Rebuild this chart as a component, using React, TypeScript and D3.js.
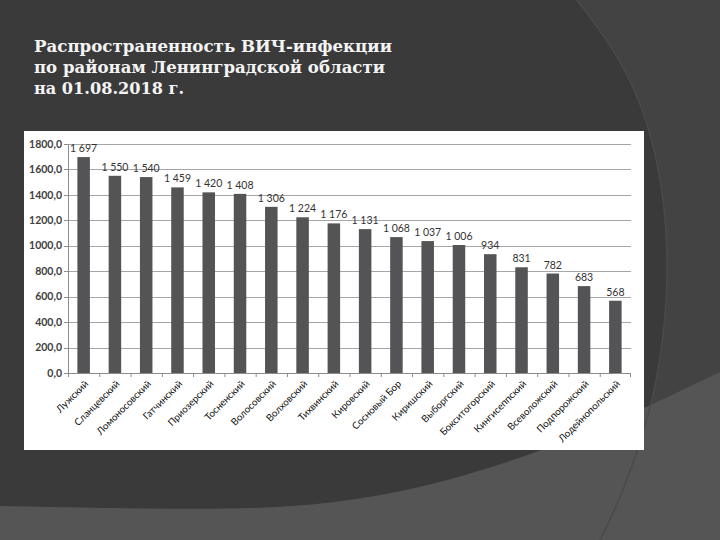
import React from "react";
import * as d3 from "d3";

const titleLines = [
  "Распространенность ВИЧ-инфекции",
  "по районам Ленинградской области",
  "на 01.08.2018 г.",
];

const districts = [
  "Лужский",
  "Сланцевский",
  "Ломоносовский",
  "Гатчинский",
  "Приозерский",
  "Тосненский",
  "Волосовский",
  "Волховский",
  "Тихвинский",
  "Кировский",
  "Сосновый Бор",
  "Киришский",
  "Выборгский",
  "Бокситогорский",
  "Кингисеппский",
  "Всеволожский",
  "Подпорожский",
  "Лодейнопольский",
];

const cases = [1697, 1550, 1540, 1459, 1420, 1408, 1306, 1224, 1176, 1131, 1068, 1037, 1006, 934, 831, 782, 683, 568];

const yTicks = [0, 200, 400, 600, 800, 1000, 1200, 1400, 1600, 1800];

const W = 720;
const H = 540;
const plot = { left: 68, right: 631, top: 144, bottom: 373 };

const fmtTick = (v: number) => v.toFixed(1).replace(".", ",");
const fmtVal = (v: number) => {
  const s = String(v);
  return s.length > 3 ? s.slice(0, s.length - 3) + " " + s.slice(s.length - 3) : s;
};

export default function App() {
  const x = d3
    .scaleBand<string>()
    .domain(districts)
    .range([plot.left, plot.right])
    .paddingInner(0.6)
    .paddingOuter(0.3);
  const xEdges = d3
    .scaleBand<string>()
    .domain(districts)
    .range([plot.left, plot.right])
    .padding(0);
  const y = d3.scaleLinear().domain([0, 1800]).range([plot.bottom, plot.top]);

  const labelFont = "Lato, 'Open Sans', sans-serif";

  const bottomCurve = d3.line<[number, number]>().curve(d3.curveBasis)([
    [0, 506],
    [150, 509],
    [300, 509],
    [420, 490],
    [540, 452],
    [620, 420],
    [720, 372],
  ]);
  const rightArc = d3.line<[number, number]>().curve(d3.curveBasis)([
    [577, 0],
    [630, 70],
    [660, 160],
    [670, 260],
    [662, 360],
    [645, 430],
    [620, 500],
    [600, 540],
  ]);

  return (
    <svg
      width={W}
      height={H}
      style={{ position: "absolute", left: 0, top: 0, display: "block" }}
      xmlns="http://www.w3.org/2000/svg"
    >
      {/* slide background */}
      <rect x={0} y={0} width={W} height={H} fill="#3a3a3a" />
      <path d={`${rightArc} L720,540 L720,0 Z`} fill="#434343" />
      <path d={`${bottomCurve} L720,540 L0,540 Z`} fill="#555555" />
      <path d={rightArc ?? ""} fill="none" stroke="#4a4a4a" strokeWidth={1.5} />

      {/* title */}
      {titleLines.map((t, i) => (
        <text
          key={i}
          x={34}
          y={52 + i * 21}
          fill="#f4f4f4"
          fontFamily="'DejaVu Serif', 'Liberation Serif', serif"
          fontWeight="bold"
          fontSize={16.5}
          textLength={i === 0 ? 358 : i === 1 ? 351 : 150}
          lengthAdjust="spacingAndGlyphs"
        >
          {t}
        </text>
      ))}

      {/* chart panel */}
      <rect x={24} y={131} width={620} height={319} fill="#ffffff" />

      {/* gridlines */}
      {yTicks.map((t) => (
        <line
          key={t}
          x1={plot.left}
          x2={plot.right}
          y1={Math.round(y(t)) + 0.5}
          y2={Math.round(y(t)) + 0.5}
          stroke="#a6a6a6"
          strokeWidth={1}
        />
      ))}

      {/* y axis */}
      <line x1={plot.left + 0.5} x2={plot.left + 0.5} y1={plot.top} y2={plot.bottom} stroke="#8c8c8c" />
      {yTicks.map((t) => (
        <g key={"yt" + t}>
          <line
            x1={plot.left - 4}
            x2={plot.left}
            y1={Math.round(y(t)) + 0.5}
            y2={Math.round(y(t)) + 0.5}
            stroke="#8c8c8c"
          />
          <text
            x={plot.left - 6}
            y={y(t)}
            dy="0.35em"
            textAnchor="end"
            fontFamily={labelFont}
            fontSize={10.5}
            fontWeight="bold"
            fill="#404040"
          >
            {fmtTick(t)}
          </text>
        </g>
      ))}

      {/* bars */}
      {districts.map((d, i) => (
        <rect
          key={d}
          x={x(d)!}
          y={y(cases[i])}
          width={x.bandwidth()}
          height={y(0) - y(cases[i])}
          fill="#545457"
        />
      ))}

      {/* value labels */}
      {districts.map((d, i) => (
        <text
          key={"v" + d}
          x={x(d)! + x.bandwidth() / 2}
          y={y(cases[i]) - 5}
          textAnchor="middle"
          fontFamily={labelFont}
          fontSize={10.5}
          fill="#333333"
        >
          {fmtVal(cases[i])}
        </text>
      ))}

      {/* x axis */}
      <line x1={plot.left} x2={plot.right} y1={plot.bottom + 0.5} y2={plot.bottom + 0.5} stroke="#8c8c8c" />
      {districts.map((d) => (
        <line
          key={"xt" + d}
          x1={xEdges(d)! + 0.5}
          x2={xEdges(d)! + 0.5}
          y1={plot.bottom}
          y2={plot.bottom + 4}
          stroke="#8c8c8c"
        />
      ))}
      <line
        x1={plot.right - 0.5}
        x2={plot.right - 0.5}
        y1={plot.bottom}
        y2={plot.bottom + 4}
        stroke="#8c8c8c"
      />

      {/* category labels */}
      {districts.map((d) => {
        const cx = x(d)! + x.bandwidth() / 2 + 3;
        const cy = plot.bottom + 9;
        return (
          <text
            key={"l" + d}
            transform={`translate(${cx},${cy}) rotate(-45)`}
            textAnchor="end"
            dy="0.35em"
            fontFamily={labelFont}
            fontSize={9.8}
            fill="#111111"
          >
            {d}
          </text>
        );
      })}
    </svg>
  );
}
